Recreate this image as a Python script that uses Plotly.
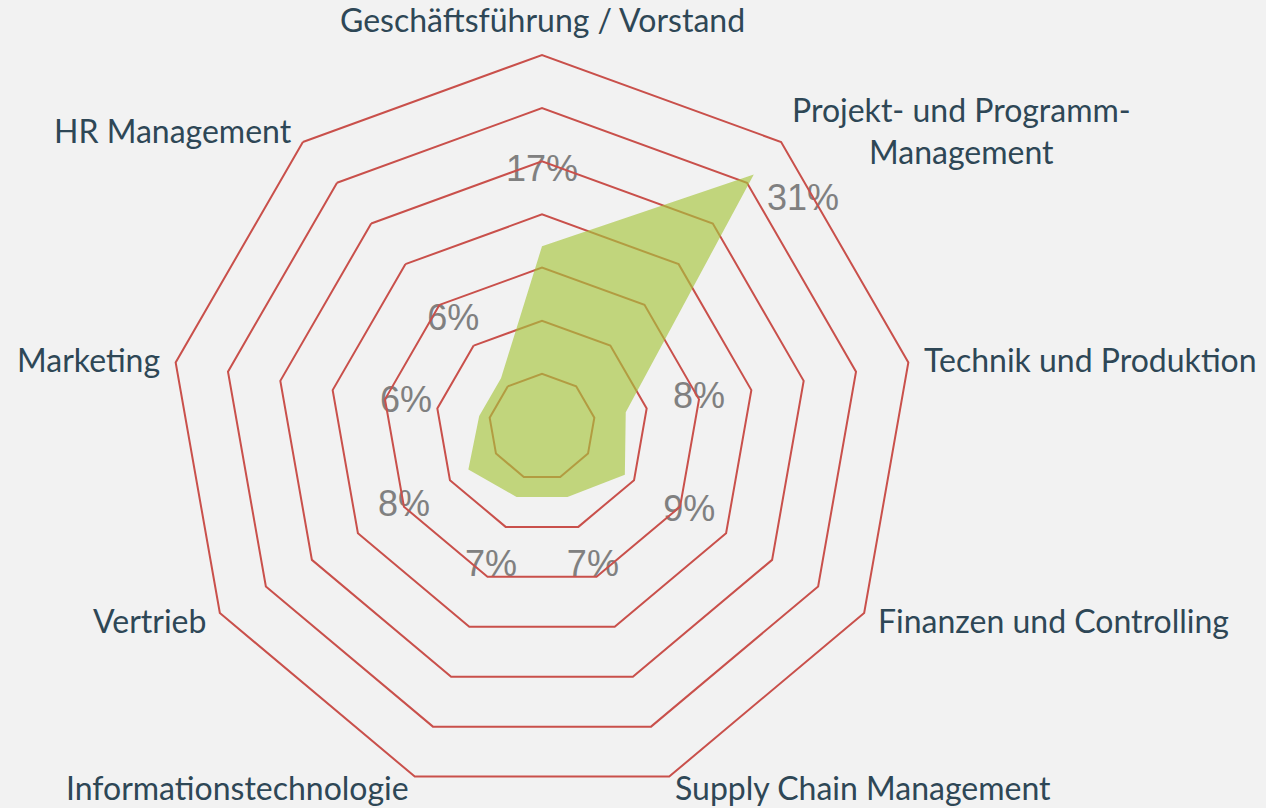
import math
import plotly.graph_objects as go

categories = [
    "Geschäftsführung / Vorstand",
    "Projekt- und Programm-<br>Management",
    "Technik und Produktion",
    "Finanzen und Controlling",
    "Supply Chain Management",
    "Informationstechnologie",
    "Vertrieb",
    "Marketing",
    "HR Management",
]
values = [17, 31, 8, 9, 7, 7, 8, 6, 6]
label_offset = [7, -1, 7, 7, 7, 7, 7, 7, 7]
label_prefix = ["", "\u00a0\u00a0", "", "", "", "", "", "", ""]
label_positions = ["middle center", "bottom right", "middle center", "middle center",
                   "middle center", "middle center", "middle center", "middle center",
                   "middle center"]

# layout geometry (pixels)
W, H = 1266, 808
CX, CY, R = 542, 427, 372
NAME_GAP = 15
RMAX = 35
NAME_SIZE = 32

BG = "#f2f2f2"
GRID = "#c9504b"
FILL = "rgba(166,196,60,0.65)"
CAT_COLOR = "#2e4756"

ml, mr, mt, mb = CX - R, W - (CX + R), CY - R, H - (CY + R)
pw, ph = W - ml - mr, H - mt - mb

fig = go.Figure()

# value labels (bottom layer, under grid lines)
fig.add_trace(go.Scatterpolar(
    r=[v + o for v, o in zip(values, label_offset)],
    theta=categories,
    mode="text",
    text=[f"{p}{v}%" for p, v in zip(label_prefix, values)],
    textposition=label_positions,
    textfont=dict(family="Liberation Sans, Arial", size=36, color="#808080"),
    subplot="polar",
    showlegend=False,
    hoverinfo="skip",
))

# filled area (top layer)
fig.add_trace(go.Scatterpolar(
    r=values + [values[0]],
    theta=categories + [categories[0]],
    mode="lines",
    fill="toself",
    fillcolor=FILL,
    line=dict(width=0, color="rgba(0,0,0,0)"),
    subplot="polar2",
    showlegend=False,
))

# category names placed outside each vertex
annotations = []
n = len(categories)
for i, name in enumerate(categories):
    a = math.radians(360.0 * i / n)
    s, c = math.sin(a), math.cos(a)
    px = CX + (R + NAME_GAP) * s
    py = CY - (R + NAME_GAP) * c
    xanchor = "center" if abs(s) < 0.1 else ("left" if s > 0 else "right")
    yanchor = "bottom" if c > 0.95 else "middle"
    if yanchor == "middle" and py + 0.65 * NAME_SIZE > H:
        # keep the bottom names inside the page
        py, yanchor = H, "bottom"
    annotations.append(dict(
        x=(px - ml) / pw, y=1 - (py - mt) / ph, xref="paper", yref="paper",
        text=name, showarrow=False, xanchor=xanchor, yanchor=yanchor,
        align="center", borderpad=0,
        font=dict(family="Lato", size=NAME_SIZE, color=CAT_COLOR),
    ))

common_radial = dict(range=[0, RMAX], dtick=5, showticklabels=False, showline=False,
                     ticks="")

fig.update_layout(
    width=W, height=H,
    paper_bgcolor=BG, plot_bgcolor=BG,
    margin=dict(l=ml, r=mr, t=mt, b=mb),
    showlegend=False,
    annotations=annotations,
    polar=dict(
        domain=dict(x=[0, 1], y=[0, 1]),
        bgcolor=BG,
        gridshape="linear",
        radialaxis=dict(**common_radial, showgrid=False),
        angularaxis=dict(rotation=90, direction="clockwise", showgrid=False,
                         showline=False, showticklabels=False, ticks="",
                         categoryorder="array", categoryarray=categories),
    ),
    polar2=dict(
        domain=dict(x=[0, 1], y=[0, 1]),
        bgcolor="rgba(0,0,0,0)",
        gridshape="linear",
        radialaxis=dict(**common_radial, showgrid=True, gridcolor=GRID,
                        gridwidth=1.6, layer="below traces"),
        angularaxis=dict(rotation=90, direction="clockwise", showgrid=False,
                         showline=True, linecolor=GRID, linewidth=2, ticks="",
                         showticklabels=False, layer="below traces",
                         categoryorder="array", categoryarray=categories),
    ),
)

fig.write_html("out.html", config={"displayModeBar": False},
               post_script="document.body.style.margin='0';")
